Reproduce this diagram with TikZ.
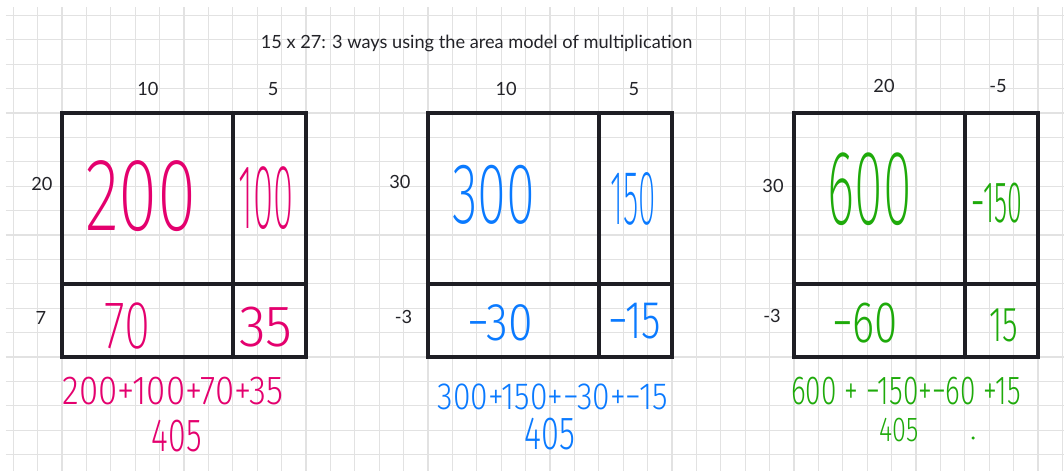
\documentclass[tikz,border=0pt]{standalone}
\usepackage{fontspec}
\setmainfont{Lato}
\newfontfamily\handfont{Fira Sans Light}
\newfontfamily\thinhandfont{Fira Sans ExtraLight}
\newcommand\handat[1]{\handfont\fontsize{#1}{#1}\selectfont}
\newcommand\thinhandat[1]{\thinhandfont\fontsize{#1}{#1}\selectfont}
\definecolor{inkpink}{RGB}{228,0,110}
\definecolor{inkblue}{RGB}{10,122,255}
\definecolor{inkgreen}{RGB}{30,170,10}
\definecolor{gridgray}{RGB}{226,226,226}
\definecolor{boxblack}{RGB}{30,30,36}
\definecolor{labelgray}{RGB}{35,35,40}
\begin{document}
\begin{tikzpicture}[
  x=0.6456cm, y=0.6456cm,
  gridline/.style={draw=gridgray, line width=0.8pt},
  areabox/.style={draw=boxblack, line width=2.6pt, line cap=round},
  lbl/.style={inner sep=0pt, text=labelgray, font=\fontsize{13.7}{13.7}\selectfont},
  pinkhand/.style={inner sep=0pt, text=inkpink},
  bluehand/.style={inner sep=0pt, text=inkblue},
  greenhand/.style={inner sep=0pt, text=inkgreen}
]
\useasboundingbox (-2.541,-14.672) rectangle (41.066,4.631);
\fill[white] (-2.541,-14.672) rectangle (41.066,4.631);
\draw [gridline, step=1] (-2.3,-14.672) grid (41.066,4.34);

\node (title) [lbl] at (16.99, 2.83) {15 x 27: 3 ways using the area model of multiplication};

\draw [areabox] (0,0) rectangle (10,-10) (7,0) -- (7,-10) (0,-7) -- (10,-7);
\draw [areabox] (15,0) rectangle (25,-10) (22,0) -- (22,-10) (15,-7) -- (25,-7);
\draw [areabox] (30,0) rectangle (40,-10) (37,0) -- (37,-10) (30,-7) -- (40,-7);

\node (topA1) [lbl] at (3.52, 0.98) {10};
\node (topA2) [lbl] at (8.65, 0.98) {5};
\node (sideA1) [lbl] at (-0.82, -2.91) {20};
\node (sideA2) [lbl] at (-0.86, -8.4) {7};
\node (topB1) [lbl] at (18.2, 0.98) {10};
\node (topB2) [lbl] at (23.44, 0.98) {5};
\node (sideB1) [lbl] at (13.85, -2.83) {30};
\node (sideB2) [lbl] at (14.0, -8.36) {-3};
\node (topC1) [lbl] at (33.69, 1.1) {20};
\node (topC2) [lbl] at (38.36, 1.1) {-5};
\node (sideC1) [lbl] at (29.14, -2.99) {30};
\node (sideC2) [lbl] at (29.1, -8.32) {-3};

\node (cellA11) [pinkhand, font=\thinhandat{78}, xscale=0.69] at (3.24, -3.40) {200};
\node (cellA12) [pinkhand, font=\thinhandat{69}, xscale=0.4] at (8.36, -3.48) {100};
\node (cellA21) [pinkhand, font=\thinhandat{51}, xscale=0.7] at (2.70, -8.73) {70};
\node (cellA22) [pinkhand, font=\handat{44}, xscale=0.94] at (8.36, -8.77) {35};
\node (sumA) [pinkhand, font=\handat{30.5}, xscale=0.86] at (4.55, -11.39) {200+100+70+35};
\node (totalA) [pinkhand, font=\handat{35}, xscale=0.69] at (4.71, -13.24) {405};

\node (cellB11) [bluehand, font=\thinhandat{65}, xscale=0.61] at (17.70, -3.36) {300};
\node (cellB12) [bluehand, font=\thinhandat{58}, xscale=0.41] at (23.40, -3.52) {150};
\node (cellB21) [bluehand, font=\handat{40}, xscale=0.84] at (17.95, -8.61) {−30};
\node (cellB22) [bluehand, font=\handat{40}, xscale=0.75] at (23.48, -8.52) {−15};
\node (sumB) [bluehand, font=\handat{28.5}, xscale=0.84] at (20.12, -11.64) {300+150+−30+−15};
\node (totalB) [bluehand, font=\handat{35}, xscale=0.7] at (20.0, -13.16) {405};

\node (cellC11) [greenhand, font=\thinhandat{80}, xscale=0.49] at (33.11, -3.11) {600};
\node (cellC12) [greenhand, font=\handat{44}, xscale=0.46] at (38.32, -3.69) {−150};
\node (cellC21) [greenhand, font=\handat{44}, xscale=0.72] at (32.91, -8.61) {−60};
\node (cellC22) [greenhand, font=\handat{37}, xscale=0.65] at (38.61, -8.69) {15};
\node (sumC) [greenhand, font=\handat{30.5}, xscale=0.69] at (34.59, -11.39) {600 + −150+−60 +15};
\node (totalC) [greenhand, font=\handat{26}, xscale=0.73] at (34.30, -12.99) {405};
\fill [inkgreen] (37.34, -13.32) circle (0.07);

\end{tikzpicture}
\end{document}
